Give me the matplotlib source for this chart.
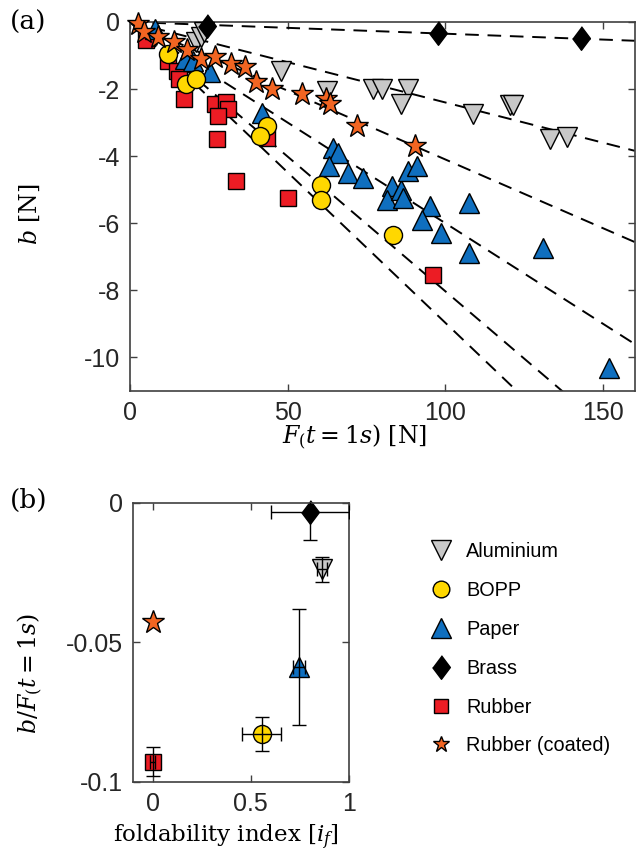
"""
Friction-loss plot: b against F(t=1s) per material, and b/F against foldability index.
"""

import matplotlib
matplotlib.use("Agg")
from matplotlib import pyplot as plt
from matplotlib.lines import Line2D

plt.rcParams["font.family"] = ["Liberation Sans", "DejaVu Sans"]
plt.rcParams["mathtext.fontset"] = "dejavuserif"
plt.rcParams["axes.unicode_minus"] = False

# ---- panel (a) data ----
alu_F = [21, 22.5, 23.5, 47.8, 62.4, 77, 80, 88, 86, 108.7, 120.4, 121.5, 133, 138.5]
alu_b = [-0.6, -0.45, -0.3, -1.45, -2.05, -2.0, -2.0, -2.0, -2.45, -2.75, -2.47, -2.47, -3.48, -3.43]

bopp_F = [12, 17.7, 21, 43.3, 41.2, 60.5, 60.5, 83.4]
bopp_b = [-0.95, -1.85, -1.7, -3.1, -3.4, -4.85, -5.3, -6.35]

paper_F = [8, 17.5, 20, 25.5, 42, 64.5, 66, 63, 69, 74, 83, 81.5, 86, 86.5, 88, 91, 95,
           92.5, 98.5, 107.5, 107.5, 131, 152]
paper_b = [-0.2, -1.1, -1.15, -1.5, -2.7, -3.75, -3.9, -4.3, -4.5, -4.65, -4.9, -5.3, -5.0,
           -5.25, -4.45, -4.3, -5.5, -5.9, -6.3, -5.4, -6.9, -6.75, -10.3]

brass_F = [24.4, 97.6, 143]
brass_b = [-0.12, -0.33, -0.48]

rubber_F = [5, 12, 15, 15.5, 17, 27, 30.5, 31, 28, 27.5, 43.5, 33.5, 50, 96]
rubber_b = [-0.55, -1.15, -1.45, -1.7, -2.3, -2.45, -2.4, -2.6, -2.8, -3.5, -3.45, -4.75,
            -5.25, -7.55]

coated_F = [2.5, 4.5, 9, 14, 18, 22.5, 27, 32, 36.5, 40, 45, 54.5, 62, 63.5, 72, 90.5]
coated_b = [-0.05, -0.3, -0.45, -0.6, -0.85, -1.1, -1.05, -1.25, -1.35, -1.8, -2.0, -2.15,
            -2.3, -2.45, -3.1, -3.7]

# slopes of the dashed fits through the origin
fit_slopes = [-0.0035, -0.024, -0.041, -0.060, -0.0803, -0.0897]
fit_F = [0, 160]

# ---- panel (b) data ----
materials = ["Aluminium", "BOPP", "Paper", "Brass", "Rubber", "Rubber (coated)"]
fold_idx = [0.86, 0.555, 0.745, 0.80, 0.0, 0.0]
fold_err = [0.025, 0.098, 0.03, 0.2, 0.012, 0.0]
ratio = [-0.0237, -0.0828, -0.0588, -0.0033, -0.0928, -0.0426]
ratio_err = [0.0045, 0.006, 0.0207, 0.0100, 0.0052, 0.0]

# style per material (same order as materials)
colors = ["#c8c8c8", "#ffd700", "#0f6fbf", "#000000", "#ec1c24", "#f26522"]
diamond = [(0, 1), (0.75, 0), (0, -1), (-0.75, 0)]
markers = ["v", "o", "^", diamond, "s", "*"]
sizes = [14, 13, 14, 17, 12, 17]
zorders = [6, 5, 4, 7, 3, 8]

series = [(alu_F, alu_b), (bopp_F, bopp_b), (paper_F, paper_b),
          (brass_F, brass_b), (rubber_F, rubber_b), (coated_F, coated_b)]

fig = plt.figure(figsize=(6.36, 8.55), dpi=100)
ax1 = fig.add_axes([0.2044, 0.5427, 0.7936, 0.4316])
ax2 = fig.add_axes([0.209, 0.0854, 0.340, 0.3263])

for s in fit_slopes:
    ax1.plot(fit_F, [s * f for f in fit_F], color="black", lw=1.4,
             linestyle=(0, (7, 4.5)), zorder=2)

for (F, b), c, m, ms, z in zip(series, colors, markers, sizes, zorders):
    ax1.plot(F, b, linestyle="none", marker=m, markersize=ms, markerfacecolor=c,
             markeredgecolor="black", markeredgewidth=1.0, zorder=z, clip_on=False)

ax1.set_xlim(0, 160)
ax1.set_ylim(-11, 0)
ax1.set_xticks([0, 50, 100, 150])
ax1.set_yticks([0, -2, -4, -6, -8, -10])
ax1.set_yticklabels(["0", "-2", "-4", "-6", "-8", "-10"])

for i in range(len(materials)):
    ax2.plot(fold_idx[i], ratio[i], linestyle="none", marker=markers[i],
             markersize=sizes[i], markerfacecolor=colors[i], markeredgecolor="black",
             markeredgewidth=1.0, zorder=2, clip_on=False)
    if ratio_err[i] > 0:
        ax2.errorbar(fold_idx[i], ratio[i], yerr=ratio_err[i], xerr=fold_err[i],
                     fmt="none", ecolor="black", elinewidth=1.0, capsize=5,
                     capthick=1.0, zorder=3)

ax2.set_xlim(-0.1, 1)
ax2.set_ylim(-0.1, 0)
ax2.set_xticks([0, 0.5, 1])
ax2.set_xticklabels(["0", "0.5", "1"])
ax2.set_yticks([0, -0.05, -0.1])
ax2.set_yticklabels(["0", "-0.05", "-0.1"])

for ax in (ax1, ax2):
    ax.tick_params(direction="in", top=True, right=True, length=5, width=1.0,
                   labelsize=18, pad=7, color="#404040", labelcolor="#262626")
    for sp in ax.spines.values():
        sp.set_color("#404040")
        sp.set_linewidth(1.2)

serif = ["DejaVu Serif"]
fig.text(0.015, 0.974, "(a)", fontsize=19, family=serif, va="center", ha="left")
fig.text(0.015, 0.415, "(b)", fontsize=19, family=serif, va="center", ha="left")
fig.text(0.047, 0.749, "$b$ [N]", fontsize=17, family=serif, rotation=90,
         va="center", ha="center")
fig.text(0.558, 0.488, "$F_(t=1s)$ [N]", fontsize=17, family=serif,
         va="center", ha="center")
fig.text(0.047, 0.213, "$b/F_(t=1s)$", fontsize=17, family=serif, rotation=90,
         va="center", ha="center")
fig.text(0.356, 0.021, "foldability index [$i_f$]", fontsize=16.5, family=serif,
         va="center", ha="center")

leg_sizes = [14, 12, 14, 17, 10, 12]
handles = [Line2D([], [], linestyle="none", marker=markers[i], markersize=leg_sizes[i],
                  markerfacecolor=colors[i], markeredgecolor="black", markeredgewidth=1.0)
           for i in range(len(materials))]
fig.legend(handles, materials, loc="upper left", bbox_to_anchor=(0.672, 0.366),
           frameon=False, fontsize=14.3, labelspacing=1.0, handlelength=1.4,
           handletextpad=0.55, borderpad=0, borderaxespad=0)

fig.savefig("out.png", dpi=100)
